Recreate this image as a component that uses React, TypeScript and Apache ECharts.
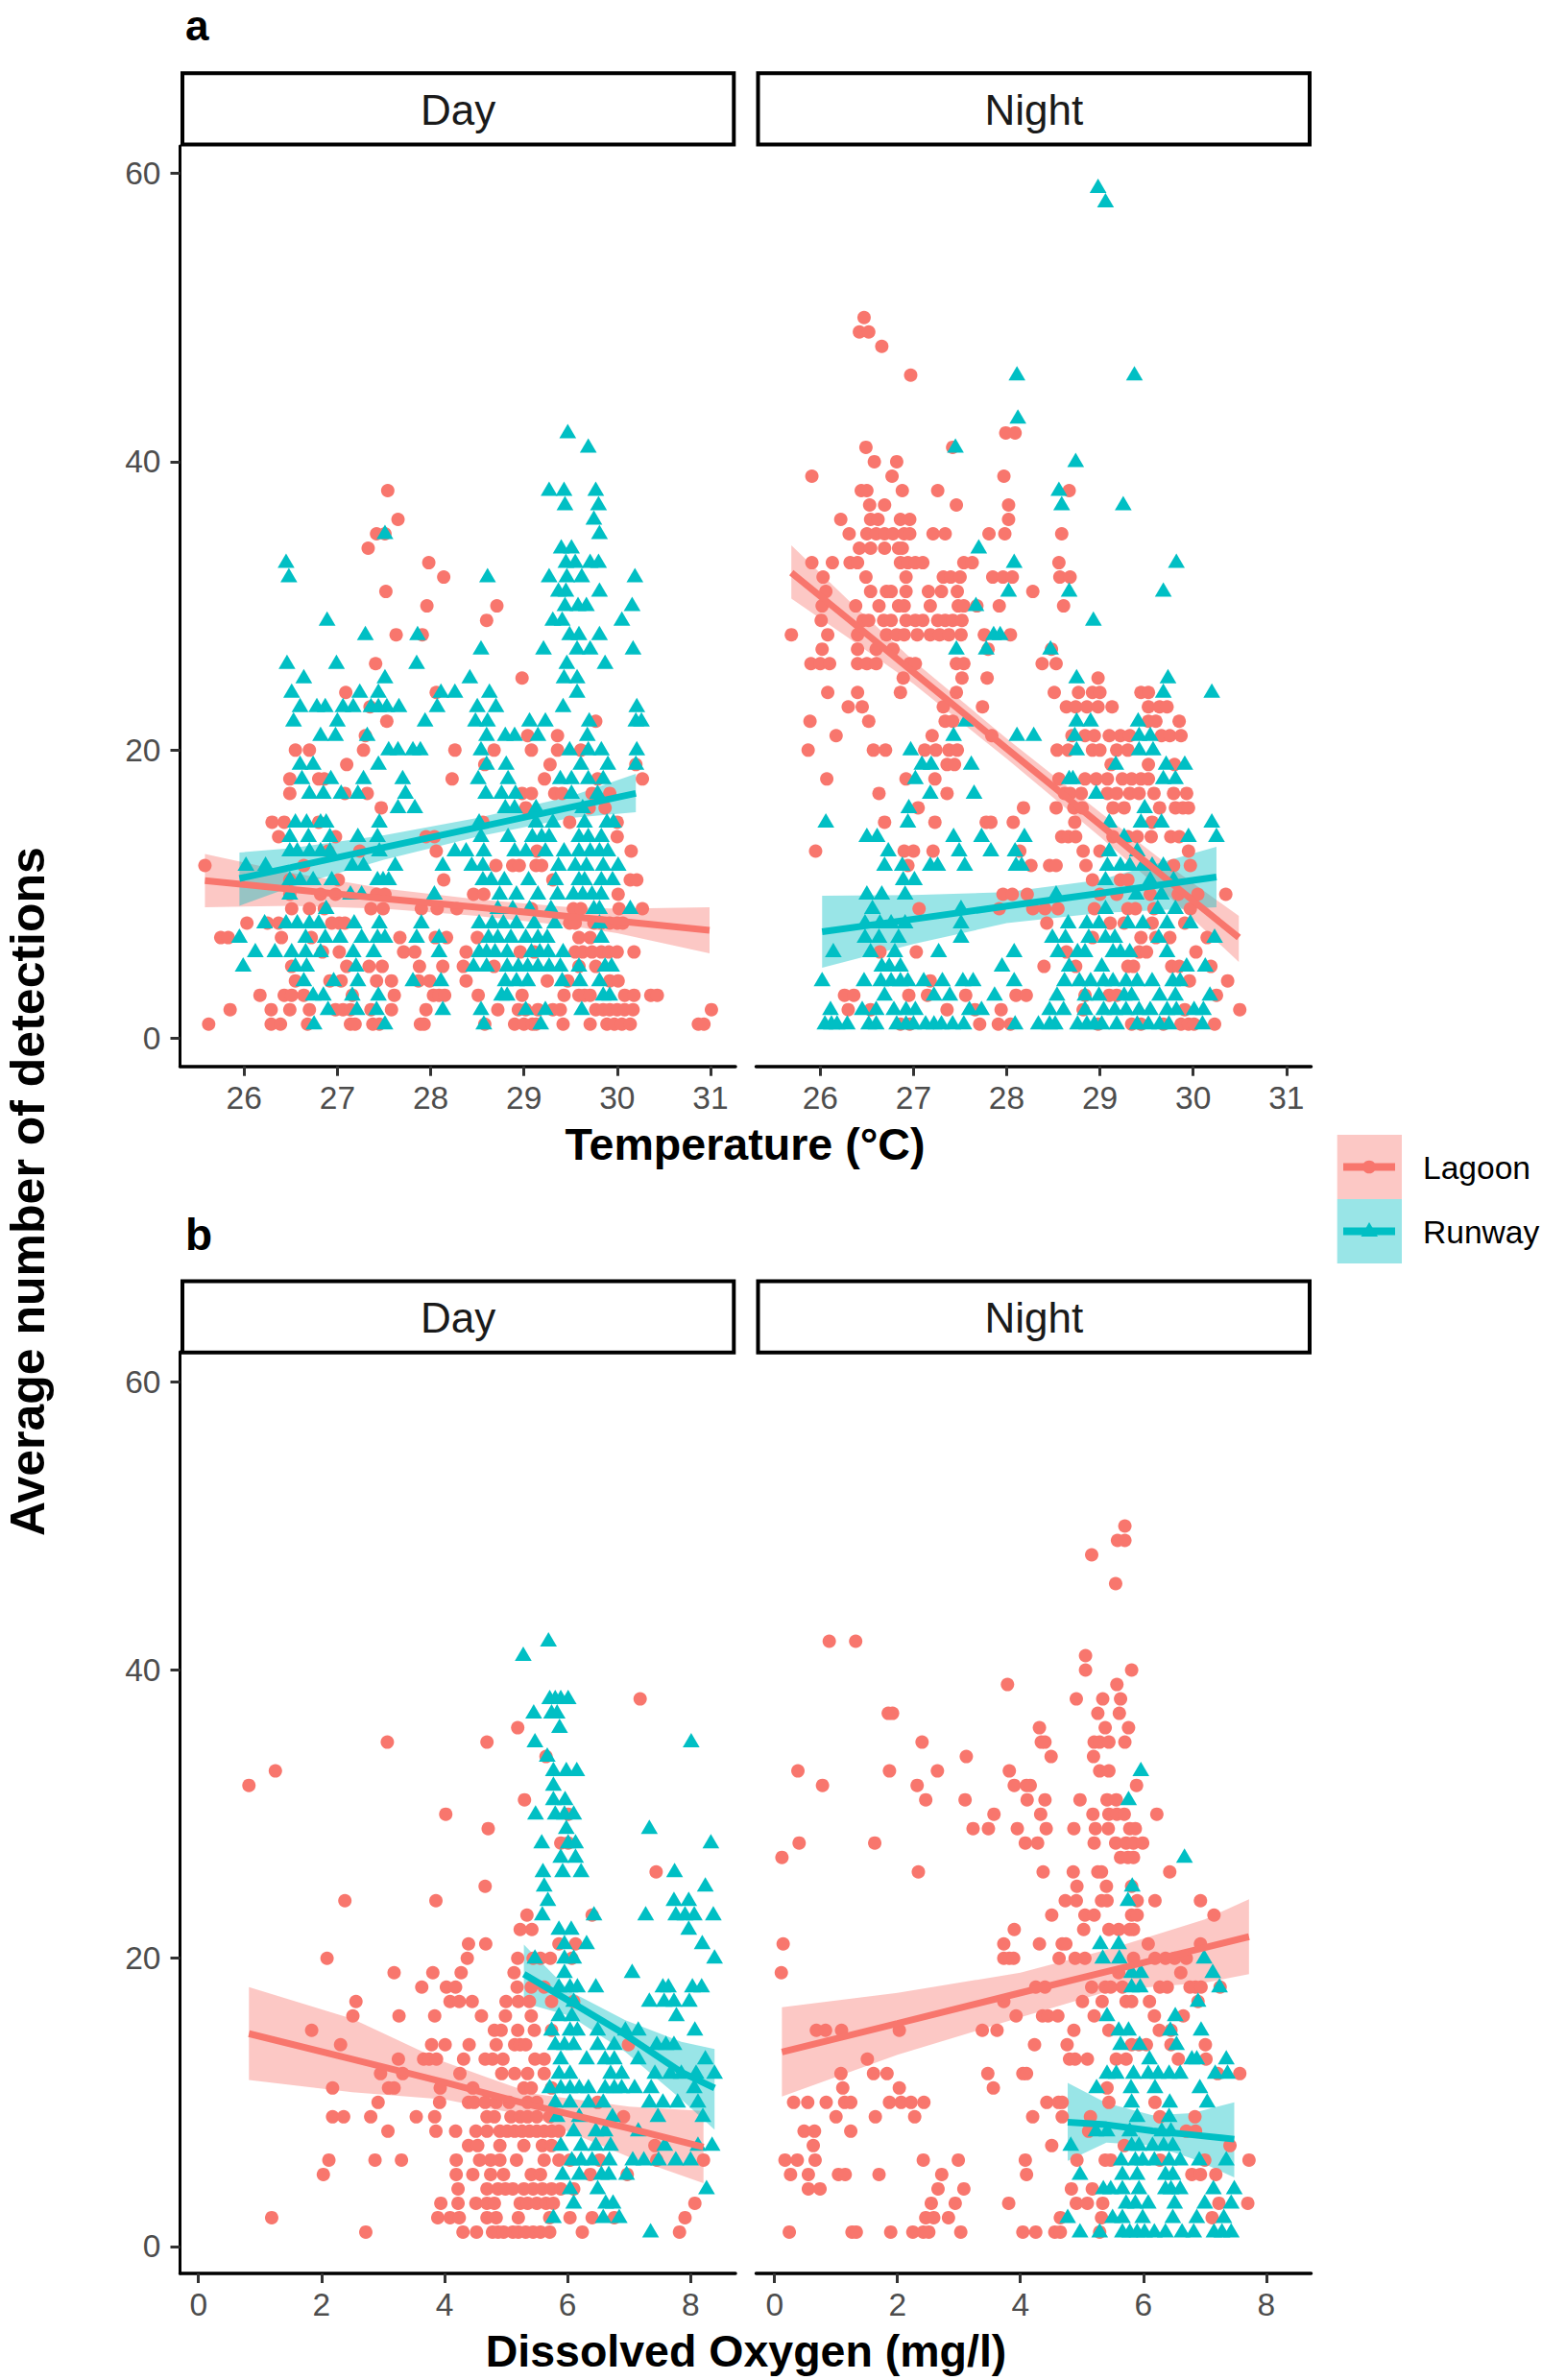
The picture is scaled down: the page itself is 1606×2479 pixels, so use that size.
import React, { useEffect, useRef } from "react";
import * as echarts from "echarts";

type Rows = [number, number[]][];
type Band = [number, number, number, number][]; // x, fit, lower, upper

const yTicks = [0, 20, 40, 60];
const tempTicks = [26, 27, 28, 29, 30, 31];
const oxyTicks = [0, 2, 4, 6, 8];

const lagoonTempDay: Rows = [
[1,[25.62,26.29,26.39,26.68,27.14,27.19,27.38,27.45,27.89,27.93,28.58,28.90,29.00,29.09,29.13,29.42,29.71,29.89,29.97,30.05,30.14,30.87,30.93]],
[2,[25.85,26.29,26.49,26.70,26.98,27.06,27.14,27.36,27.58,27.95,28.72,28.94,29.02,29.15,29.31,29.39,29.77,29.85,29.92,30.00,30.08,30.17,31.01]],
[3,[26.17,26.43,26.51,26.64,27.16,27.61,28.03,28.09,28.15,28.51,28.98,29.43,29.59,29.65,29.71,30.08,30.18,30.36,30.43]],
[4,[26.55,26.92,27.04,27.42,27.58,27.87,27.99,28.38,29.25,29.47,29.92,30.01]],
[5,[26.51,27.10,27.34,27.48,27.88,28.13,28.35,28.68,29.59,29.77]],
[6,[26.84,27.02,27.71,27.83,28.38,28.96,29.11,29.55,29.63,29.73,29.83,29.91,30.00,30.18]],
[7,[25.75,25.83,26.40,26.72,27.67,28.05,28.17,28.50,29.59,29.71]],
[8,[26.03,26.25,26.37,26.94,27.02,27.08,29.49,29.55,29.75,29.83,29.92,30.0,30.06]],
[9,[26.51,26.70,26.86,27.36,27.49,27.90,28.07,28.28,29.08,29.53,29.61,30.02,30.27]],
[10,[26.49,26.82,26.98,27.42,27.51,28.46,28.57,30.01]],
[11,[26.49,27.01,28.14,29.31,30.14,30.21]],
[12,[25.58,26.64,28.70,28.88,28.95,29.13,29.19]],
[13,[26.90,27.24,28.06,29.14,30.15]],
[14,[26.37,26.98,27.95,28.04,30.0]],
[15,[26.30,26.43,26.80,28.56,29.49,30.0]],
[16,[27.47,29.02,29.70,29.87]],
[17,[26.49,27.08,27.32,28.98,29.08,29.33,29.41,29.73,29.92]],
[18,[26.49,26.80,26.86,28.23,29.22,29.79,30.27]],
[19,[27.10,28.58,29.28,30.20]],
[20,[26.55,26.70,27.28,28.26,28.68,29.08,29.36,29.61]],
[21,[27.30,29.04,29.36]],
[22,[27.53,29.77]],
[23,[27.35]],
[24,[27.09,28.06]],
[25,[28.98]],
[26,[27.41]],
[28,[27.63,27.91]],
[29,[28.60]],
[30,[27.96,28.71]],
[31,[27.52]],
[32,[28.14]],
[33,[27.98]],
[34,[27.33]],
[35,[27.42,27.51]],
[36,[27.65]],
[38,[27.54]],
];

const runwayTempDay: Rows = [
[1,[26.75,27.51,28.57,29.18]],
[2,[26.90,27.21,27.42,28.13,28.54,29.02,29.23,29.62]],
[3,[26.74,26.85,27.16,27.44,28.76,28.82,29.85,29.92]],
[4,[26.64,26.96,27.22,27.81,28.11,28.80,28.92,29.04,29.41,29.60,29.81]],
[5,[25.99,26.55,26.67,27.20,28.46,28.60,28.82,28.94,29.04,29.15,29.27,29.39,29.59,29.87,29.94]],
[6,[26.12,26.33,26.51,26.66,26.82,27.17,27.39,28.09,28.52,28.60,28.69,28.82,29.08,29.17,29.26,29.42]],
[7,[25.95,26.66,26.87,27.03,27.26,27.43,27.51,27.85,28.09,28.62,28.72,28.86,29.02,29.15,29.25,29.83]],
[8,[26.22,26.45,26.57,26.70,26.80,27.18,27.45,27.90,28.52,28.66,28.78,28.92,29.11,29.33,29.81]],
[9,[26.88,28.72,28.88,29.06,29.29,29.75,29.81,30.14]],
[10,[26.49,27.14,27.26,28.04,28.74,28.92,29.15,29.36,29.53,29.63,29.73,29.83]],
[11,[26.49,26.60,26.74,26.94,27.43,27.49,27.55,28.56,28.65,28.79,29.05,29.34,29.59,29.65,29.83,29.95]],
[12,[26.02,26.23,27.16,27.28,27.62,28.13,28.44,28.56,29.37,29.55,29.67,29.85,30.01]],
[13,[26.49,26.57,26.70,26.82,26.92,27.45,28.26,28.38,28.57,28.90,29.02,29.23,29.43,29.59,29.71,29.81,29.90]],
[14,[26.49,26.69,26.92,27.22,27.43,28.54,28.83,29.09,29.19,29.27,29.59,29.69,29.83]],
[15,[26.55,26.67,26.82,26.88,27.45,28.52,29.13,29.31,29.65,29.89,29.96]],
[16,[27.65,27.83,28.80,28.90,29.13,29.63]],
[17,[26.70,26.85,27.04,27.22,27.73,28.59,28.76,28.91,29.51,29.79]],
[18,[26.62,26.93,27.28,27.70,28.51,28.83,29.39,29.51,29.69,29.85]],
[19,[26.60,26.74,27.44,28.60,28.81,29.61,29.90,30.20]],
[20,[27.55,27.65,27.81,27.89,28.54,29.49,29.69,29.83,30.21]],
[21,[26.82,26.98,27.32,28.60,28.80,28.90,29.15,29.68]],
[22,[26.53,27.00,27.94,28.48,28.61,29.06,29.23,29.70,30.20,30.26]],
[23,[26.60,26.78,26.87,27.06,27.17,27.36,27.44,27.53,27.66,28.07,28.50,28.70,29.42,30.21]],
[24,[26.51,27.24,27.44,28.11,28.26,28.63,29.57]],
[25,[26.64,27.51,28.42,29.43,29.57]],
[26,[26.46,26.99,27.85,29.46,29.87]],
[27,[28.54,29.21,29.57,29.71,30.17]],
[28,[27.30,27.86,29.49,29.59,29.81]],
[29,[26.89,29.31,29.41,30.05]],
[30,[29.44,29.58,29.67,30.16]],
[31,[29.37,29.45,29.81]],
[32,[26.48,28.61,29.27,29.46,29.62,30.19]],
[33,[26.45,29.45,29.55,29.71,29.80]],
[34,[29.40,29.51]],
[35,[27.51,29.81]],
[36,[29.75]],
[37,[29.44,29.80]],
[38,[29.27,29.43,29.77]],
[41,[29.69]],
[42,[29.47]],
];

const lagoonTempNight: Rows = [
[50,[26.47]],
[49,[26.42,26.52]],
[48,[26.66]],
[46,[26.97]],
[42,[27.99,28.09]],
[41,[26.49,27.42]],
[40,[26.58,26.82]],
[39,[25.91,26.77,27.97]],
[38,[26.44,26.50,26.88,27.26,28.67]],
[37,[26.53,26.69,27.46,28.02]],
[36,[26.22,26.54,26.62,26.86,26.96,28.02]],
[35,[26.31,26.50,26.60,26.69,26.78,26.90,26.96,27.21,27.34,27.81,27.98,28.59]],
[34,[26.42,26.54,26.69,26.84,26.88]],
[33,[25.91,26.13,26.32,26.40,26.86,26.94,27.02,27.10,27.54,27.63,28.56]],
[32,[26.03,26.49,26.92,27.32,27.40,27.50,27.85,27.96,28.06,28.57,28.68]],
[31,[26.06,26.54,26.71,26.76,26.92,27.16,27.30,27.47,28.28]],
[30,[26.02,26.38,26.63,26.84,26.90,27.18,27.48,27.54,27.68,27.92,28.61]],
[29,[26.01,26.46,26.52,26.68,26.76,26.92,27.02,27.10,27.26,27.34,27.42,27.52]],
[28,[25.69,26.08,26.40,26.71,26.82,26.90,27.04,27.18,27.28,27.38,27.51,27.76,28.04]],
[27,[26.02,26.40,26.60,26.78,27.80,28.48]],
[26,[25.90,26.00,26.10,26.40,26.50,26.60,26.96,27.02,27.46,27.54,28.38,28.53]],
[25,[26.89,27.52,27.79,28.98]],
[24,[26.08,26.40,26.86,27.46,28.51,28.77,28.92,29.00,29.44,29.52]],
[23,[26.30,26.45,27.32,27.74,28.64,28.74,28.86,28.98,29.13,29.52,29.64,29.72]],
[22,[25.89,26.52,27.34,27.42,29.52,29.60,29.85]],
[21,[26.17,27.20,27.84,28.70,28.84,28.94,29.10,29.22,29.32,29.66,29.75,29.87]],
[20,[25.87,26.57,26.70,27.12,27.24,27.38,27.47,28.54,28.66,28.92,29.00,29.18,29.30]],
[19,[27.36,27.44,29.12,29.52,29.80]],
[18,[26.07,26.92,27.23,28.56,28.84,28.96,29.08,29.24,29.34,29.44,29.52]],
[17,[26.63,27.36,28.62,28.68,28.80,29.08,29.18,29.32,29.42,29.58,29.79,29.93]],
[16,[27.05,28.18,28.53,28.72,28.81,29.14,29.26,29.64,29.81,29.89,29.95]],
[15,[26.69,27.23,27.78,27.83,28.07,28.73,29.56]],
[14,[28.59,28.66,28.74,29.14,29.30,29.40,29.55,29.76,29.85]],
[13,[25.95,26.90,27.00,27.21,28.14,28.82,29.00,29.95]],
[12,[26.94,28.26,28.46,28.53,28.85,29.79,29.97]],
[11,[28.92,29.22,29.30]],
[10,[27.96,28.06,28.22,29.00,29.18,29.54,29.84,30.05,30.35]],
[9,[27.06,27.92,28.28,28.41,28.55,28.94,29.30,29.38,29.58,29.97]],
[8,[28.43,29.11,29.26,29.56,29.91]],
[7,[28.92,29.44,29.60,29.75,30.15]],
[6,[26.64,27.03,28.64,29.42,29.50,30.03]],
[5,[28.40,28.74,29.30,29.36,29.77,29.85,30.19]],
[4,[27.18,29.96,30.37]],
[3,[26.26,26.36,26.95,27.15,27.56,28.10,28.21,28.84,29.10,29.18,30.25]],
[2,[26.30,26.54,27.36,27.66,27.94,28.82,29.91,30.50]],
[1,[26.86,26.96,27.71,27.91,28.04,28.98,29.34,29.44,29.68,29.87,29.95,30.01,30.23]],
];

const runwayTempNight: Rows = [
[59,[28.98]],
[58,[29.06]],
[46,[28.11,29.37]],
[43,[28.12]],
[41,[27.45]],
[40,[28.74]],
[38,[28.56]],
[37,[28.59,29.25]],
[34,[27.70]],
[33,[28.08,29.82]],
[31,[28.02,28.67,29.68]],
[30,[27.67]],
[29,[28.93]],
[28,[27.86,27.93]],
[27,[27.46,27.78,28.47]],
[25,[28.75,29.73]],
[24,[29.68,30.20]],
[22,[27.56,28.75,28.90,29.41]],
[21,[27.43,28.11,28.29,28.73,29.42,29.54]],
[20,[26.97,28.75,29.42,29.57]],
[19,[27.09,27.19,27.62,29.17,29.71,29.91]],
[18,[27.02,28.67,28.71,29.68,29.81]],
[17,[27.18,27.65,28.96]],
[16,[26.95,29.48]],
[15,[26.06,26.94,29.10,29.44,29.66,30.20]],
[14,[26.50,26.61,27.43,27.73,28.19,29.26,29.95,30.25]],
[13,[26.73,27.49,27.83,28.09,29.10,29.40]],
[12,[26.69,26.88,27.18,27.26,27.55,28.10,28.16,29.08,29.22,29.32,29.46,29.56,29.68]],
[11,[26.89,27.01,29.06,29.54,29.79]],
[10,[26.50,26.66,26.91,28.53,29.39,29.66]],
[9,[26.56,27.51,29.06,29.62,29.81]],
[8,[26.48,26.64,26.76,26.91,27.51,28.66,28.86,28.99,29.30,29.46,29.72,29.97]],
[7,[26.48,26.63,26.84,27.51,28.49,28.63,28.88,29.06,29.16,29.63,30.23]],
[6,[26.14,26.54,26.80,27.27,28.08,28.55,28.76,28.84,29.14,29.22,29.32,29.72]],
[5,[26.66,26.74,26.86,27.95,28.67,29.02,29.93,30.13]],
[4,[26.02,26.47,26.65,26.76,26.86,26.94,27.11,27.31,27.53,27.64,28.08,28.62,28.78,28.90,29.04,29.14,29.28,29.40,29.56,29.78,29.86]],
[3,[26.69,27.22,27.39,27.87,28.54,28.84,28.99,29.26,29.34,29.64,29.81,30.18]],
[2,[26.11,26.45,26.60,26.79,26.92,27.02,27.60,27.73,28.46,28.61,28.84,29.04,29.16,29.28,29.42,29.54,29.72,29.82,30.01,30.11]],
[1,[26.05,26.12,26.18,26.29,26.52,26.60,26.82,26.92,27.00,27.13,27.22,27.30,27.42,27.54,28.09,28.34,28.46,28.52,28.76,28.86,28.94,29.02,29.18,29.40,29.52,29.64,29.74,30.10]],
];

const lagoonOxyDay: Rows = [
[1,[2.72,4.30,4.52,4.78,4.87,4.96,5.11,5.20,5.32,5.44,5.56,5.71,6.24,7.82]],
[2,[1.19,3.89,4.09,4.24,4.69,4.84,5.20,5.71,6.04,6.40,6.76,7.91]],
[3,[3.94,4.22,4.51,4.69,4.81,5.23,5.35,5.50,5.65,5.77,8.07]],
[4,[4.22,4.69,4.87,4.99,5.11,5.29,5.44,5.59,5.74,5.89,6.10]],
[5,[2.03,4.19,4.46,4.75,4.96,5.41,5.56,6.37,6.97]],
[6,[2.12,2.87,3.30,4.19,4.57,4.75,4.90,5.17,5.62,5.86,6.04,6.52,7.45,8.21]],
[7,[4.39,4.54,4.90,5.29,5.59,5.74,7.42]],
[8,[3.08,3.86,4.18,4.51,4.69,4.90,5.02,5.14,5.26,5.38,5.50,5.62,5.74,5.86]],
[9,[2.18,2.36,2.80,3.54,3.84,4.69,4.81,5.08,5.23,5.35,5.50,5.71,6.91]],
[10,[2.92,3.92,4.39,4.48,4.66,4.84,5.05,5.35,5.50,6.49]],
[11,[2.18,3.09,3.18,3.93,4.46,5.29,5.41,5.74]],
[12,[2.96,3.32,4.25,4.93,5.14,5.35,5.62]],
[13,[3.25,3.66,3.75,3.87,4.31,4.66,4.78,4.95,5.47,5.62]],
[14,[2.31,3.79,4.01,4.40,4.84,5.14,5.23,5.32,6.99]],
[15,[1.84,4.81,4.92,5.19,5.46,5.74]],
[16,[2.51,3.26,3.84,4.60,4.99,5.41]],
[17,[2.56,4.09,4.24,4.45,5.00,5.20,5.38,5.74,6.10]],
[18,[3.63,4.03,4.18,5.18,5.41,5.62]],
[19,[3.18,3.81,4.27,5.13]],
[20,[2.09,4.37,5.19,5.44,5.56,5.72,6.07]],
[21,[4.39,4.67,5.86,6.13]],
[22,[5.23,5.42]],
[23,[5.34,6.40]],
[24,[2.38,3.86]],
[25,[4.66]],
[26,[7.44]],
[28,[5.89,6.01]],
[29,[4.71]],
[30,[4.02,6.01]],
[31,[5.30]],
[32,[0.82]],
[33,[1.25]],
[34,[5.65]],
[35,[3.07,4.69]],
[36,[5.19]],
[38,[7.18]],
];

const runwayOxyDay: Rows = [
[1,[7.35]],
[2,[5.77,6.58,6.84]],
[3,[6.10,6.62,6.74]],
[4,[6.04,6.49,8.26]],
[5,[5.92,6.19,6.55,6.67,6.96]],
[6,[6.07,6.22,6.40,6.68,7.06,7.24,7.48,7.76,8.00]],
[7,[5.89,6.22,6.46,6.70,7.58,8.12,8.35]],
[8,[6.10,6.46,6.61,7.15]],
[9,[5.83,6.19,6.73,7.47,8.20]],
[10,[5.80,6.04,6.34,6.58,7.33,7.55,7.79,8.12]],
[11,[5.71,5.89,6.04,6.19,6.34,6.61,6.76,6.88,7.09,7.36,8.06]],
[12,[5.86,6.04,6.70,6.88,7.42,7.67,7.85,8.09,8.39]],
[13,[5.89,6.31,6.61,6.76,7.15,8.24]],
[14,[5.80,5.95,6.10,6.49,6.76,7.45,7.60,7.73]],
[15,[5.74,6.04,6.16,6.49,6.94,7.15,8.07]],
[16,[5.86,6.07,7.77]],
[17,[6.10,7.33,7.57,7.73,7.98]],
[18,[5.86,6.04,6.16,6.46,7.55,7.64,8.03,8.18]],
[19,[5.95,7.05]],
[20,[5.47,5.95,6.10,8.39]],
[21,[5.95,6.31,8.19]],
[22,[5.86,6.06,7.97]],
[23,[5.59,6.43,7.27,7.76,7.91,8.06,8.37]],
[24,[5.68,7.73,7.97]],
[25,[5.62,8.24]],
[26,[5.60,5.92,6.22,7.74]],
[27,[5.89,6.13]],
[28,[5.58,6.01,6.13,8.33]],
[29,[5.98,7.33]],
[30,[5.48,5.80,5.95,6.10]],
[31,[5.77,5.96]],
[32,[5.77]],
[33,[5.77,5.98,6.15]],
[34,[5.67]],
[35,[5.47,8.01]],
[36,[5.87]],
[37,[5.45,5.74,5.83]],
[38,[5.71,5.80,5.89,6.01]],
[41,[5.28]],
[42,[5.69]],
];

const lagoonOxyNight: Rows = [
[50,[5.70]],
[49,[5.58,5.70]],
[48,[5.16]],
[46,[5.55]],
[42,[0.89,1.32]],
[41,[5.06]],
[40,[5.06,5.81]],
[39,[3.79,5.57]],
[38,[4.91,5.34,5.63]],
[37,[1.85,1.92,5.26,5.61]],
[36,[4.31,5.38,5.76]],
[35,[2.40,4.34,4.40,5.20,5.29,5.44,5.70]],
[34,[3.12,4.50,5.19]],
[33,[0.38,1.87,2.65,3.82,5.29,5.44]],
[32,[0.78,2.32,3.90,4.10,4.16,5.89]],
[31,[2.46,3.10,4.11,4.40,4.97,5.41,5.56]],
[30,[3.57,4.33,5.18,5.44,5.57,5.69,6.22]],
[29,[3.23,3.48,3.95,4.42,4.87,5.22,5.43,5.78,5.87]],
[28,[0.40,1.63,4.08,4.28,5.20,5.55,5.72,5.84,5.99]],
[27,[0.12,5.63,5.75,5.84]],
[26,[2.34,4.37,4.86,5.26,5.32,6.43]],
[25,[4.92,5.40,5.81]],
[24,[4.73,4.91,5.32,5.41,5.90,6.19,6.93]],
[23,[4.51,5.05,5.20,5.81,5.90,7.15]],
[22,[3.90,5.03,5.44,5.60,5.78,5.84]],
[21,[0.14,3.73,4.31,4.68,4.74,6.08,6.93]],
[20,[3.73,3.82,3.89,4.63,4.89,5.05,5.84,6.19,6.36,6.51,6.70]],
[19,[0.11,5.60,6.61]],
[18,[4.25,4.40,5.16,5.38,5.47,5.66,6.27,6.39,6.76,6.85,6.94,7.25]],
[17,[3.73,5.01,5.33,5.72,5.81,6.10,6.89]],
[16,[3.93,4.36,4.45,4.61,5.20,6.18,6.65]],
[15,[0.68,0.83,1.09,2.03,3.38,3.62,4.87,5.44,6.26,6.45]],
[14,[4.23,4.76,5.81,5.93,6.05,6.45,7.01]],
[13,[1.51,4.80,4.89,5.09,5.56,5.72,6.57,7.02]],
[12,[1.08,1.61,1.83,3.47,4.04,4.10,7.21,7.57]],
[11,[1.11,2.03,3.56,5.41]],
[10,[0.31,0.54,0.84,1.14,1.24,1.87,2.06,2.22,2.43,4.43,4.62,4.68,5.44,6.19]],
[9,[1.00,1.64,2.28,4.20,4.68,5.14,6.27,6.84]],
[8,[0.48,0.65,1.24,5.11,6.70,6.85]],
[7,[0.63,4.51,5.69,7.41]],
[6,[0.17,0.37,0.66,2.42,2.99,4.08,4.92,5.38,5.47,6.27,7.00,7.72]],
[5,[0.26,0.55,1.04,1.15,1.70,2.72,4.10,6.79,6.93,7.18]],
[4,[0.55,0.74,2.66,3.08,4.83,5.17]],
[3,[2.55,2.94,3.81,4.91,5.09,5.34,7.23,7.70]],
[2,[2.46,2.59,2.83,4.65,5.32,7.12]],
[1,[0.24,1.26,1.33,1.89,2.25,2.42,2.51,3.03,4.04,4.25,4.56,4.65,5.29]],
];

const runwayOxyNight: Rows = [
[1,[4.97,5.29,5.66,5.78,5.90,6.02,6.18,6.36,6.63,6.82,7.15,7.28,7.43]],
[2,[4.77,5.50,5.66,5.99,6.48,6.87,7.31]],
[3,[5.72,5.87,6.08,6.51,7.00,7.43]],
[4,[5.35,5.47,5.66,5.93,6.36,6.45,6.60,7.14,7.48]],
[5,[4.97,5.66,5.90,6.36,6.48]],
[6,[5.64,5.87,5.99,6.18,6.42,6.60,6.91,7.35]],
[7,[4.82,5.81,5.93,6.15,6.33,6.48]],
[8,[5.23,5.41,5.78,6.30,6.45]],
[9,[5.90,6.42]],
[10,[5.81,6.43,7.04]],
[11,[5.24,5.80,6.19,6.92]],
[12,[5.41,5.56,5.84,6.08,6.24,6.42,6.60,7.17,7.37]],
[13,[6.10,6.79,6.87,7.35]],
[14,[5.63,5.94,6.54]],
[15,[5.60,5.76,6.44,6.94]],
[16,[5.41,6.52]],
[17,[6.89]],
[18,[5.81,5.95,7.24]],
[19,[5.81,5.96,7.13]],
[20,[5.34,5.61,6.99]],
[21,[5.30,5.60]],
[24,[5.75]],
[25,[5.82]],
[27,[6.67]],
[31,[5.76]],
[33,[5.96]],
];

const lagoonBandTempDay: Band = [[25.58,10.95,9.1,12.8],[26.5,10.35,9.2,11.5],[27.5,9.7,9.0,10.4],[28.5,9.1,8.5,9.65],[29.5,8.45,7.8,9.1],[30.0,8.15,7.3,9.0],[30.99,7.5,5.9,9.1]];
const runwayBandTempDay: Band = [[25.95,11.1,9.2,12.9],[26.5,11.86,10.5,13.2],[27.5,13.25,12.4,14.1],[28.5,14.64,14.0,15.3],[29.5,16.03,15.3,16.8],[30.2,17.0,15.7,18.35]];
const lagoonBandTempNight: Band = [[25.69,32.3,30.5,34.2],[26.3,29.1,27.8,30.4],[27,25.4,24.6,26.2],[28,20.1,19.4,20.8],[29,14.85,14.0,15.7],[29.8,10.6,9.5,11.7],[30.49,7.0,5.3,8.5]];
const runwayBandTempNight: Band = [[26.02,7.4,4.9,9.9],[27,8.28,6.55,9.95],[28,9.18,8.0,10.15],[29,10.07,8.7,11.0],[30.25,11.2,9.1,13.3]];
const lagoonBandOxyDay: Band = [[0.82,14.77,11.56,18.0],[2.5,13.0,10.7,15.8],[4,11.39,10.2,12.8],[5.44,9.78,9.0,10.6],[7,8.2,6.2,9.7],[8.21,6.9,4.4,9.4]];
const runwayBandOxyDay: Band = [[5.29,18.9,16.9,20.95],[6.04,17.0,16.0,17.7],[6.94,14.7,13.5,15.7],[7.85,12.1,10.2,14.2],[8.39,11.0,8.1,13.7]];
const lagoonBandOxyNight: Band = [[0.12,13.5,10.4,16.6],[2,15.48,13.3,17.6],[4,17.6,15.9,19.0],[5.5,19.18,17.8,20.7],[7,20.74,18.3,22.7],[7.72,21.5,18.9,24.1]];
const runwayBandOxyNight: Band = [[4.77,8.63,5.95,11.35],[5.4,8.45,7.2,9.95],[6.15,8.03,7.0,9.1],[6.8,7.75,6.1,9.25],[7.48,7.45,4.8,10.0]];

const RED = "#F8766D";
const TEAL = "#00BFC4";
const RED_BAND = "rgba(248,118,109,0.4)";
const TEAL_BAND = "rgba(0,191,196,0.4)";
const FONT = '"Liberation Sans", Arial, sans-serif';

const points = (rows: Rows) => rows.flatMap(([y, xs]) => xs.map((x) => [x, y]));

const bandSeries = (i: number, rows: Band, fill: string) => ({
  type: "custom",
  xAxisIndex: i,
  yAxisIndex: i,
  silent: true,
  data: rows.map((r) => [r[0], r[1]]),
  encode: { x: 0, y: 1 },
  renderItem: (params: any, api: any) => {
    if (params.dataIndex !== 0) return null;
    const upper = rows.map((r) => api.coord([r[0], r[3]]));
    const lower = rows.map((r) => api.coord([r[0], r[2]])).reverse();
    return { type: "polygon", shape: { points: [...upper, ...lower] }, style: { fill, stroke: "none" } };
  },
});

const fitSeries = (i: number, rows: Band, color: string) => ({
  type: "line",
  xAxisIndex: i,
  yAxisIndex: i,
  silent: true,
  symbol: "none",
  data: rows.map((r) => [r[0], r[1]]),
  lineStyle: { color, width: 7, cap: "butt" },
  itemStyle: { color },
});

const dots = (i: number, rows: Rows, name: string) => ({
  type: "scatter",
  name,
  xAxisIndex: i,
  yAxisIndex: i,
  silent: true,
  symbol: "circle",
  symbolSize: 14,
  itemStyle: { color: RED, opacity: 1 },
  data: points(rows),
});

const tris = (i: number, rows: Rows, name: string) => ({
  type: "scatter",
  name,
  xAxisIndex: i,
  yAxisIndex: i,
  silent: true,
  symbol: "triangle",
  symbolSize: [17.6, 15],
  symbolOffset: [0, -2],
  itemStyle: { color: TEAL, opacity: 1 },
  data: points(rows),
});

const panels = [
  { left: 187.5, width: 578.5, top: 152, height: 958.7, xMin: 25.313, xMax: 31.268, yMin: -1.93, yMax: 61.9, ticks: tempTicks, showY: true,
    lagoon: lagoonTempDay, runway: runwayTempDay, lb: lagoonBandTempDay, rb: runwayBandTempDay },
  { left: 787.5, width: 578, top: 152, height: 958.7, xMin: 25.312, xMax: 31.265, yMin: -1.93, yMax: 61.9, ticks: tempTicks, showY: false,
    lagoon: lagoonTempNight, runway: runwayTempNight, lb: lagoonBandTempNight, rb: runwayBandTempNight },
  { left: 187.5, width: 578.5, top: 1408, height: 960, xMin: -0.3, xMax: 8.73, yMin: -1.87, yMax: 62.09, ticks: oxyTicks, showY: true,
    lagoon: lagoonOxyDay, runway: runwayOxyDay, lb: lagoonBandOxyDay, rb: runwayBandOxyDay },
  { left: 787.5, width: 578, top: 1408, height: 960, xMin: -0.3, xMax: 8.73, yMin: -1.87, yMax: 62.09, ticks: oxyTicks, showY: false,
    lagoon: lagoonOxyNight, runway: runwayOxyNight, lb: lagoonBandOxyNight, rb: runwayBandOxyNight },
];

const txt = (text: string, x: number, y: number, fontSize: number, extra: any = {}, fill = "#000", fontWeight = "normal", align = "center") => ({
  type: "text",
  x,
  y,
  silent: true,
  ...extra,
  style: { text, fontSize, fontWeight, fontFamily: FONT, fill, align, verticalAlign: "middle" },
});

const strip = (x: number, y: number, w: number, h: number, label: string) => [
  { type: "rect", silent: true, shape: { x, y, width: w, height: h }, style: { fill: "#fff", stroke: "#000", lineWidth: 4 } },
  txt(label, x + w / 2, y + h / 2 + 1, 44, {}, "#1A1A1A"),
];

export default function App() {
  const ref = useRef<HTMLDivElement>(null);
  useEffect(() => {
    const chart = echarts.init(ref.current!, undefined, { renderer: "svg" });
    const series: any[] = [];
    panels.forEach((p, i) => {
      series.push(dots(i, p.lagoon, "Lagoon"), tris(i, p.runway, "Runway"));
      series.push(bandSeries(i, p.lb, RED_BAND), fitSeries(i, p.lb, RED));
      series.push(bandSeries(i, p.rb, TEAL_BAND), fitSeries(i, p.rb, TEAL));
    });
    chart.setOption({
      animation: false,
      backgroundColor: "#fff",
      textStyle: { fontFamily: FONT },
      grid: panels.map((p) => ({ left: p.left, top: p.top, width: p.width, height: p.height, containLabel: false })),
      xAxis: panels.map((p, i) => ({
        type: "value",
        gridIndex: i,
        min: p.xMin,
        max: p.xMax,
        splitLine: { show: false },
        axisLine: { show: true, onZero: false, lineStyle: { color: "#000", width: 3.5 } },
        axisTick: { show: true, length: 10, lineStyle: { color: "#333", width: 3 }, customValues: p.ticks },
        axisLabel: { color: "#4D4D4D", fontSize: 33.5, fontFamily: FONT, margin: 15.5, customValues: p.ticks },
      })),
      yAxis: panels.map((p, i) => ({
        type: "value",
        gridIndex: i,
        min: p.yMin,
        max: p.yMax,
        show: p.showY,
        splitLine: { show: false },
        axisLine: { show: true, onZero: false, lineStyle: { color: "#000", width: 3 } },
        axisTick: { show: true, length: 10, lineStyle: { color: "#333", width: 3 }, customValues: yTicks },
        axisLabel: { color: "#4D4D4D", fontSize: 33.5, fontFamily: FONT, margin: 20, padding: [2, 0, 0, 0], customValues: yTicks },
      })),
      series,
      graphic: {
        elements: [
          ...strip(190, 76.3, 574.3, 74.2, "Day"),
          ...strip(789.5, 76.3, 574.5, 74.2, "Night"),
          ...strip(190, 1334.6, 574.3, 74.2, "Day"),
          ...strip(789.5, 1334.6, 574.5, 74.2, "Night"),
          txt("a", 193, 26, 44, {}, "#000", "bold", "left"),
          txt("b", 193, 1286, 46, {}, "#000", "bold", "left"),
          txt("Temperature (°C)", 776, 1192, 46.6, {}, "#000", "bold"),
          txt("Dissolved Oxygen (mg/l)", 777, 2449, 46.5, {}, "#000", "bold"),
          txt("Average number of detections", 29, 1241, 50, { rotation: Math.PI / 2 }, "#000", "bold"),
          { type: "rect", silent: true, shape: { x: 1392.7, y: 1182, width: 67.3, height: 67 }, style: { fill: RED_BAND } },
          { type: "rect", silent: true, shape: { x: 1392.7, y: 1249, width: 67.3, height: 67 }, style: { fill: TEAL_BAND } },
          { type: "line", silent: true, shape: { x1: 1399, y1: 1215.5, x2: 1453, y2: 1215.5 }, style: { stroke: RED, lineWidth: 8 } },
          { type: "circle", silent: true, shape: { cx: 1426, cy: 1215.5, r: 6.8 }, style: { fill: RED } },
          { type: "line", silent: true, shape: { x1: 1399, y1: 1282.5, x2: 1453, y2: 1282.5 }, style: { stroke: TEAL, lineWidth: 8 } },
          { type: "polygon", silent: true, shape: { points: [[1426, 1273], [1435, 1288], [1417.5, 1288]] }, style: { fill: TEAL } },
          txt("Lagoon", 1482, 1216, 33.6, {}, "#000", "normal", "left"),
          txt("Runway", 1482, 1283, 33.6, {}, "#000", "normal", "left"),
        ],
      },
    });
    return () => chart.dispose();
  }, []);
  return <div ref={ref} style={{ position: "absolute", left: 0, top: 0, width: 1606, height: 2479 }} />;
}
